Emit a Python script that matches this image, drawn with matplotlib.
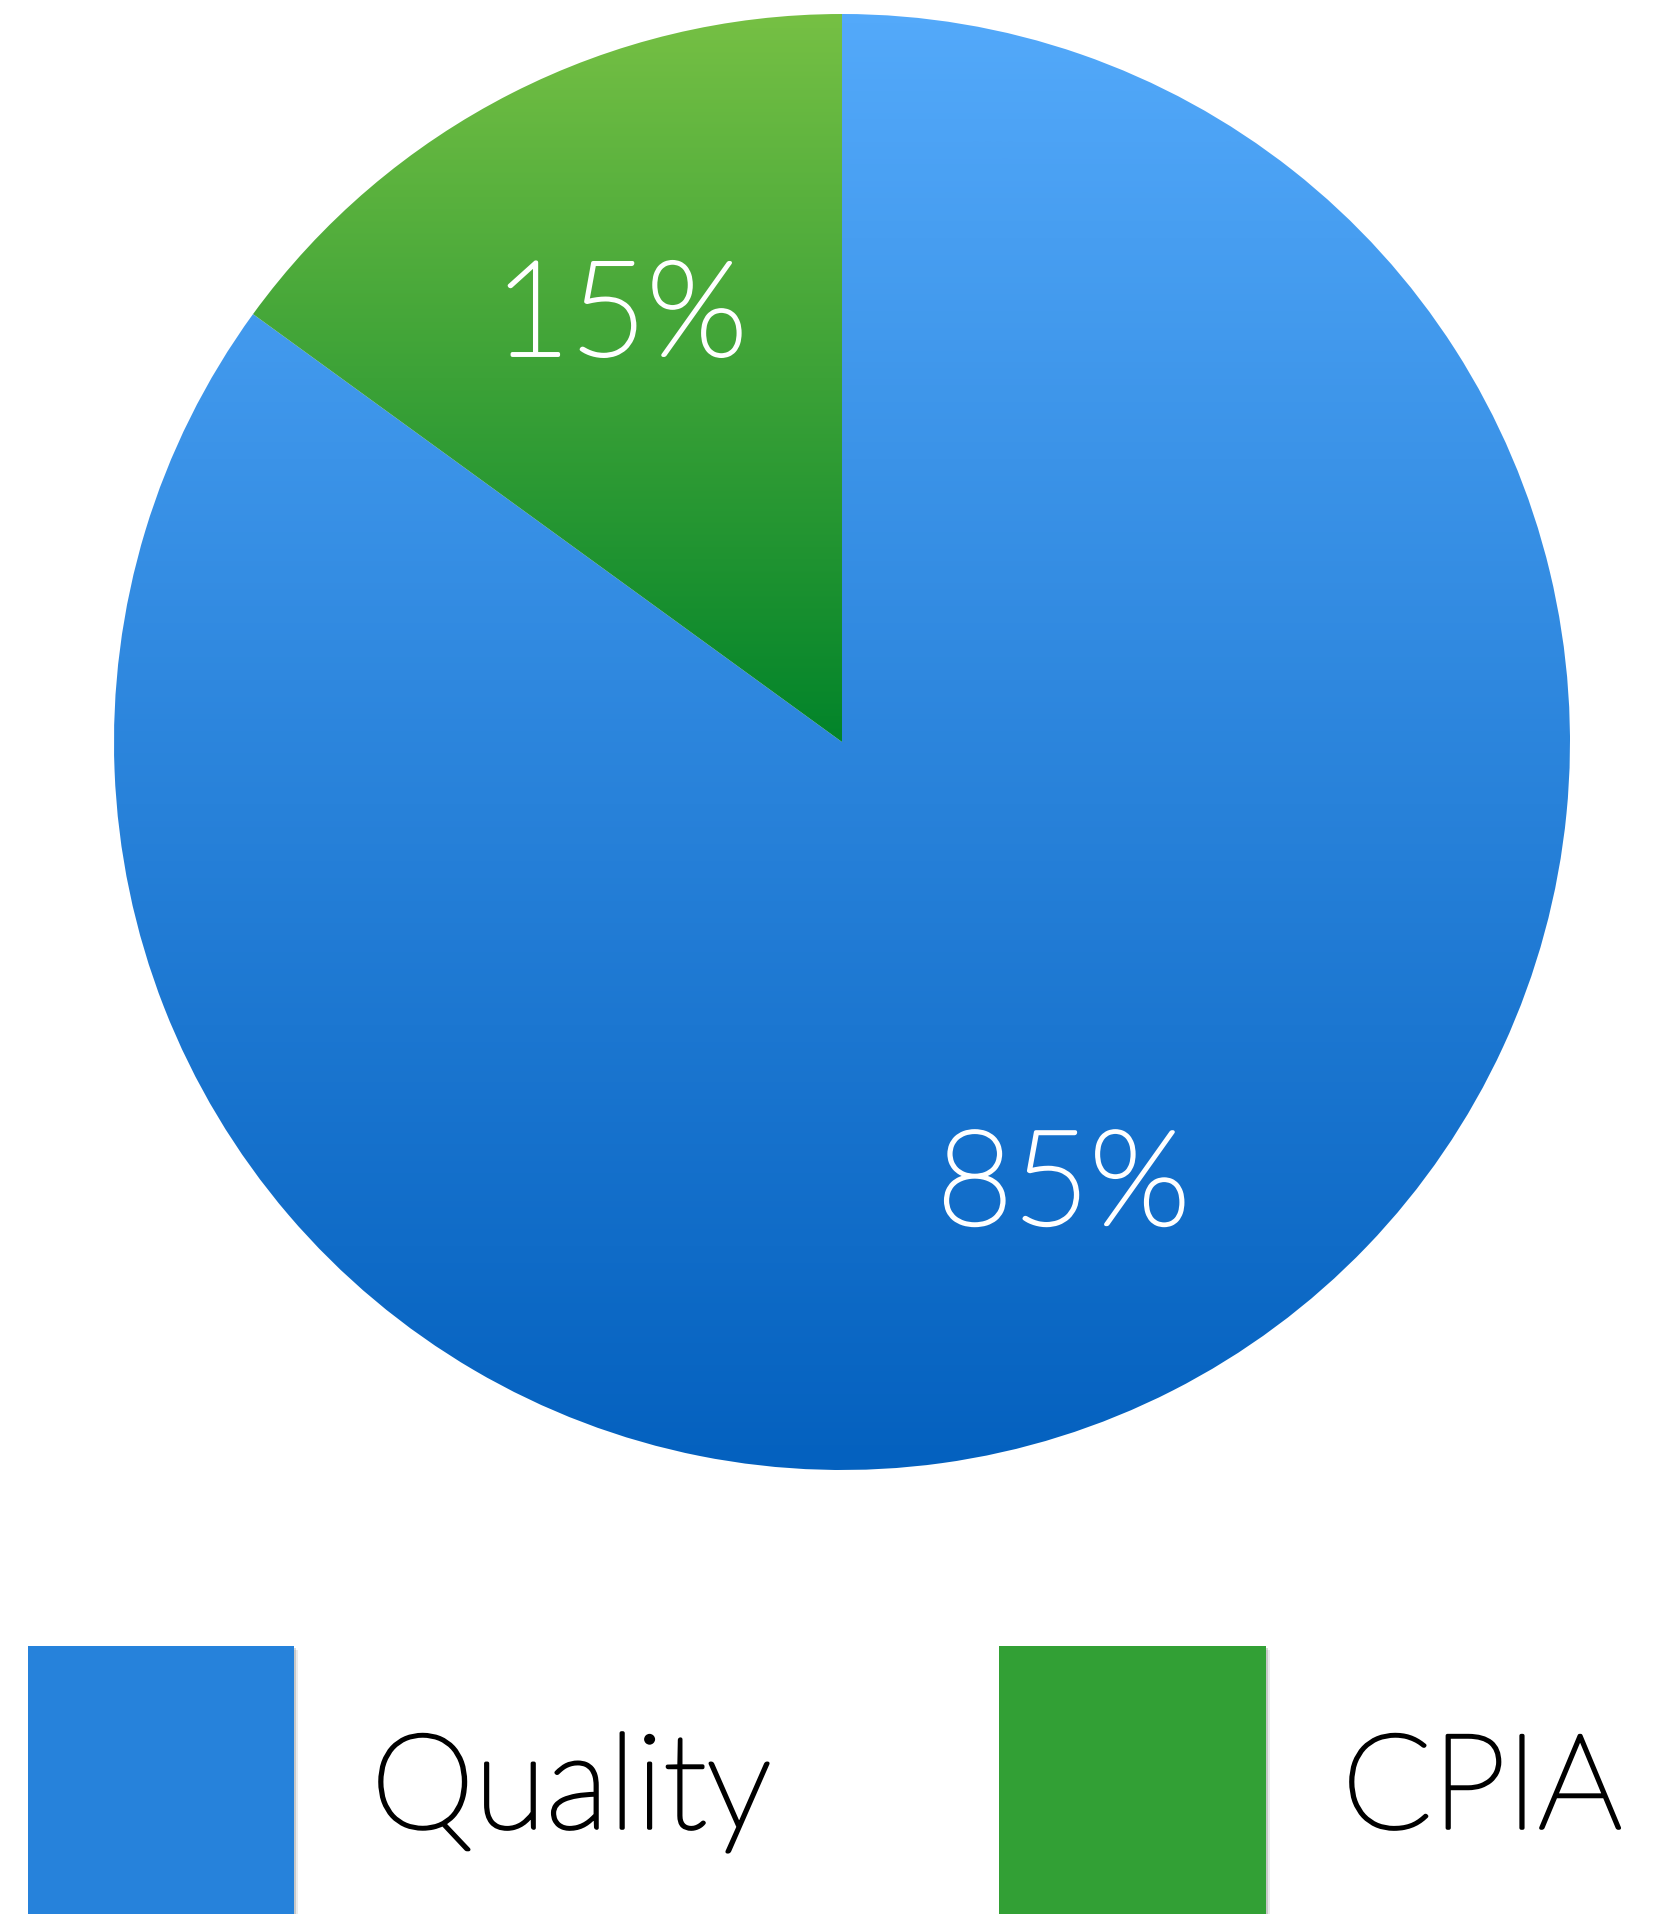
import numpy as np
import matplotlib
matplotlib.use("Agg")
import matplotlib.pyplot as plt
import matplotlib.patheffects as pe
from matplotlib.colors import LinearSegmentedColormap
from matplotlib.patches import Rectangle

categories = ["Quality", "CPIA"]
values = [85, 15]
legend_colors = ["#2682DB", "#32A035"]
grad_top = ["#53A9FA", "#76C044"]
grad_bottom = ["#0461BF", "#02842A"]

W, H = 1654, 1915
fig = plt.figure(figsize=(W / 100, H / 100), dpi=100)
fig.patch.set_facecolor("white")

cx, cy, R = 842, 743, 728
ax = fig.add_axes([(cx - R) / W, (H - cy - R) / H, 2 * R / W, 2 * R / H])
wedges, texts, autotexts = ax.pie(
    values, startangle=90, counterclock=False, autopct="%.0f%%",
    pctdistance=0.67, colors=legend_colors,
    wedgeprops=dict(linewidth=0),
    textprops=dict(color="white", fontsize=95, family="Lato", fontweight="light"))
ax.set_xlim(-1, 1)
ax.set_ylim(-1, 1)
ax.set_aspect("auto")
ax.axis("off")

grad = np.linspace(0, 1, 256).reshape(-1, 1)
for w, top, bot in zip(wedges, grad_top, grad_bottom):
    cmap = LinearSegmentedColormap.from_list("g", [bot, top])
    verts = w.get_path().vertices
    ymin = max(verts[:, 1].min(), -1)
    ymax = min(verts[:, 1].max(), 1)
    xmin, xmax = verts[:, 0].min(), verts[:, 0].max()
    im = ax.imshow(grad, cmap=cmap, origin="lower", aspect="auto",
                   extent=(xmin, xmax, ymin, ymax), zorder=w.get_zorder() + 0.1,
                   interpolation="bilinear")
    im.set_clip_path(w)
    w.set_facecolor("none")

thick_w = [pe.Stroke(linewidth=2.6, foreground="white"), pe.Normal()]
thick_k = [pe.Stroke(linewidth=2.6, foreground="black"), pe.Normal()]
for t in autotexts:
    t.set_zorder(10)
    t.set_va("center_baseline")
    t.set_path_effects(thick_w)
ax.set_xlim(-1, 1)
ax.set_ylim(-1, 1)

# legend
boxes = [(28, 1647, 266, 268), (999, 1647, 267, 268)]
text_x = [371, 1342]
baseline = 1829
for (x, y, bw, bh), col, lab, tx in zip(boxes, legend_colors, categories, text_x):
    for k, a in [(4, 0.08), (2, 0.15)]:
        fig.patches.append(Rectangle(((x + k) / W, (H - y - bh - k) / H), bw / W, bh / H,
                                     transform=fig.transFigure, facecolor="black",
                                     alpha=a, edgecolor="none"))
    fig.patches.append(Rectangle((x / W, (H - y - bh) / H), bw / W, bh / H,
                                 transform=fig.transFigure, facecolor=col,
                                 edgecolor="none"))
    fig.text(tx / W, (H - baseline) / H, lab, fontsize=95, family="Lato",
             fontweight="light", color="black", va="baseline", ha="left",
             path_effects=thick_k)

fig.savefig("out.png", dpi=100, facecolor="white")
